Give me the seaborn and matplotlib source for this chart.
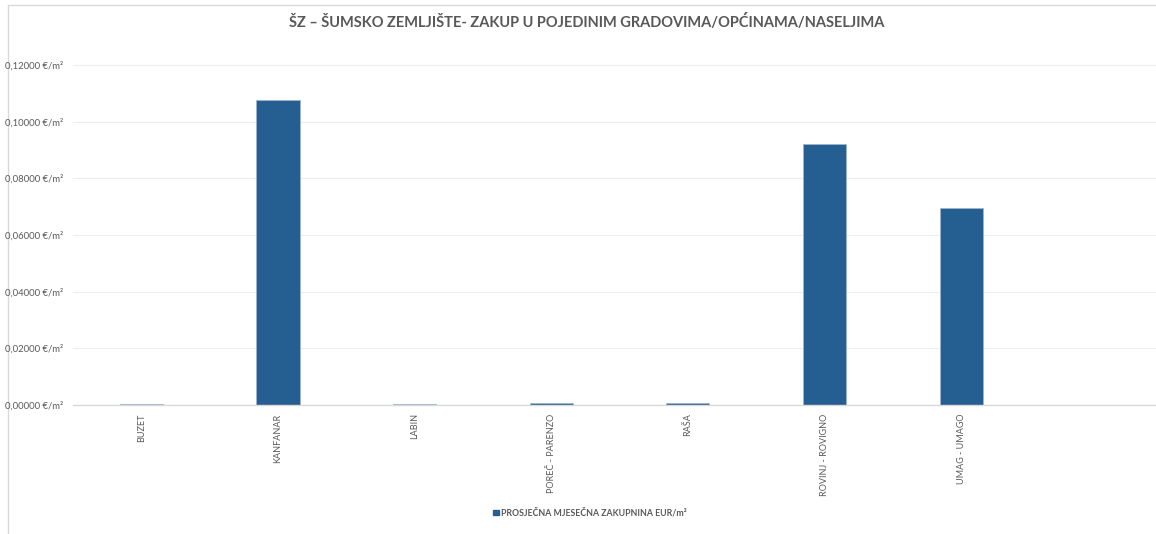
import matplotlib
matplotlib.use("Agg")
import matplotlib.pyplot as plt
from matplotlib.patches import Patch
from matplotlib.lines import Line2D
import seaborn as sns
import pandas as pd

# Average monthly lease of forest land per town / municipality
places = ["BUZET", "KANFANAR", "LABIN", "POREČ - PARENZO", "RAŠA",
          "ROVINJ - ROVIGNO", "UMAG - UMAGO"]
lease_eur_m2 = [0.0004, 0.1078, 0.0003, 0.0007, 0.0007, 0.0921, 0.0694]
y_ticks = [0.0, 0.02, 0.04, 0.06, 0.08, 0.10, 0.12]
series_name = "PROSJEČNA MJESEČNA ZAKUPNINA EUR/m²"
title = "ŠZ – ŠUMSKO ZEMLJIŠTE- ZAKUP U POJEDINIM GRADOVIMA/OPĆINAMA/NASELJIMA"

BAR = "#255E91"
TEXT = "#595959"
GRID = "#EDEDED"

sns.set_theme(style="white")
plt.rcParams["font.family"] = ["Lato", "DejaVu Sans"]

df = pd.DataFrame({"place": places, "value": lease_eur_m2})

W, H = 1156, 534
fig = plt.figure(figsize=(W / 100, H / 100), dpi=100)

# chart frame edges, kept behind everything else
fig.add_artist(Line2D([8 / W, 8 / W], [0, 1 - 5 / H], color="#D9D9D9", lw=1, zorder=-5))
fig.add_artist(Line2D([8 / W, 1], [1 - 5 / H, 1 - 5 / H], color="#D9D9D9", lw=1, zorder=-5))

ax = fig.add_axes([73 / W, 1 - 405 / H, (W - 73) / W, (405 - 65) / H])
ax.patch.set_alpha(0)

sns.barplot(data=df, x="place", y="value", color=BAR, width=0.315,
            edgecolor="#9DB5D0", linewidth=0.6, saturation=1, ax=ax)

ax.set_ylim(0, 0.12)
ax.set_xlim(-0.5, (W - 141) / 136.7)
ax.set_yticks(y_ticks)
ax.set_yticklabels([f"{v:.5f}".replace(".", ",") + " €/m²" for v in y_ticks],
                   fontsize=6.8, color=TEXT)
ax.tick_params(axis="y", length=0, pad=7)
ax.tick_params(axis="x", length=0, pad=6)
ax.set_xticks(range(len(places)))
ax.set_xticklabels(places, rotation=90, fontsize=6.5, color=TEXT, va="top")
ax.set_xlabel("")
ax.set_ylabel("")
ax.grid(axis="y", color=GRID, linewidth=0.8)
ax.set_axisbelow(True)
for s in ("top", "right", "left"):
    ax.spines[s].set_visible(False)
ax.spines["bottom"].set_color("#D9D9D9")
ax.spines["bottom"].set_linewidth(1)

fig.text(587 / W, 1 - 22 / H, title, ha="center", va="center",
         fontsize=10.5, fontweight="bold", color=TEXT)

handle = Patch(facecolor=BAR, edgecolor=BAR)
leg = fig.legend([handle], [series_name], loc="center",
                 bbox_to_anchor=(590 / W, 1 - 513 / H), frameon=False,
                 handlelength=0.6, handleheight=0.6, handletextpad=0.3,
                 prop={"weight": "bold", "size": 6.3})
for t in leg.get_texts():
    t.set_color(TEXT)
    t.set_fontweight("bold")

fig.savefig("out.png", dpi=100, facecolor="white")
